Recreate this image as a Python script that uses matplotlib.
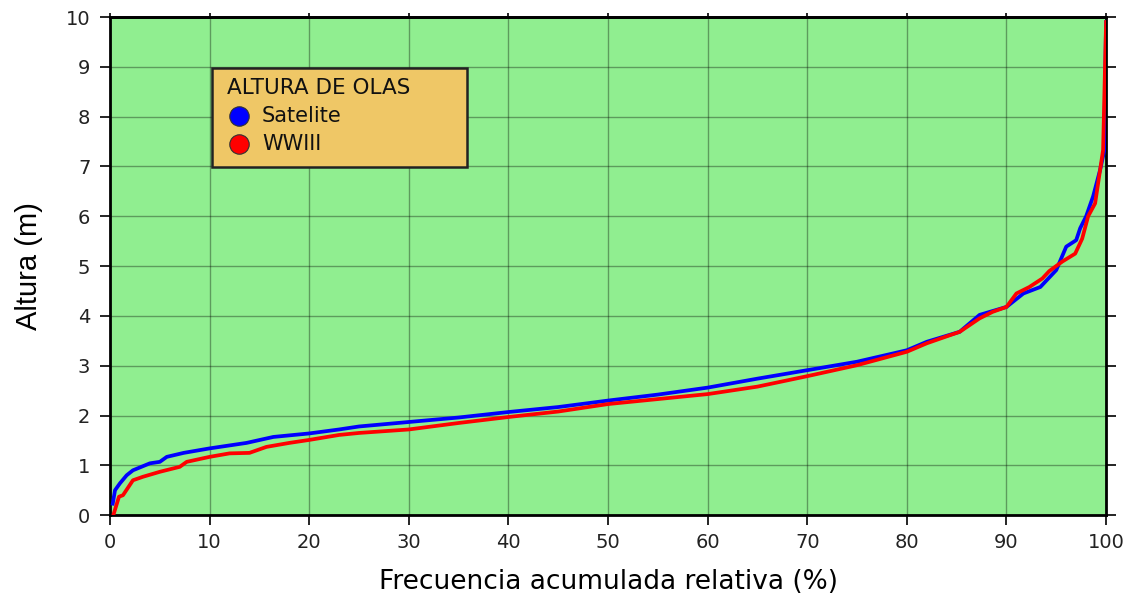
import matplotlib.pyplot as plt
from matplotlib.patches import Rectangle

plt.rcParams['font.family'] = ['DejaVu Sans']

# cumulative frequency (%) vs wave height (m)
sat_freq = [0.27, 0.5, 1.0, 1.67, 2.3, 4.0, 5.0, 5.7, 7.4, 10.0, 13.7, 16.4, 20.0, 23.0,
            25.0, 30.0, 35.0, 40.0, 45.0, 50.0, 55.0, 60.0, 65.0, 70.0, 75.0, 80.0,
            82.0, 85.3, 87.3, 90.0, 91.7, 93.4, 95.0, 96.0, 97.0, 97.4, 98.0, 98.7,
            99.4, 99.8, 100.0]
sat_height = [0.23, 0.5, 0.64, 0.8, 0.9, 1.04, 1.07, 1.17, 1.25, 1.34, 1.45, 1.57, 1.64, 1.72,
              1.78, 1.87, 1.96, 2.07, 2.17, 2.30, 2.42, 2.56, 2.74, 2.91, 3.08, 3.31,
              3.48, 3.68, 4.02, 4.18, 4.45, 4.58, 4.92, 5.39, 5.52, 5.76, 6.0, 6.4,
              6.93, 7.3, 9.9]

wwiii_freq = [0.33, 0.9, 1.3, 2.3, 3.3, 5.0, 7.0, 7.7, 10.0, 12.0, 14.0, 15.7, 18.0, 20.0,
              23.0, 25.0, 30.0, 35.0, 40.0, 45.0, 50.0, 55.0, 60.0, 65.0, 70.0, 75.0,
              80.0, 82.0, 85.3, 87.3, 88.6, 90.0, 91.0, 92.3, 93.6, 94.3, 95.6, 96.9,
              97.6, 98.2, 98.9, 99.4, 99.7, 100.0]
wwiii_height = [0.0, 0.37, 0.4, 0.7, 0.77, 0.87, 0.97, 1.07, 1.17, 1.24, 1.25, 1.37, 1.45, 1.51,
                1.61, 1.65, 1.72, 1.85, 1.97, 2.08, 2.23, 2.33, 2.43, 2.58, 2.79, 3.01,
                3.28, 3.45, 3.68, 3.95, 4.08, 4.18, 4.45, 4.58, 4.75, 4.9, 5.09, 5.25,
                5.55, 6.0, 6.26, 6.93, 7.33, 9.9]

fig = plt.figure(figsize=(11.32, 5.99), dpi=100)
ax = fig.add_axes([0.0972, 0.140, 0.8799, 0.8316])
ax.set_facecolor('#90EE90')

ax.plot(sat_freq, sat_height, color='#0000FF', lw=2.7, zorder=3)
ax.plot(wwiii_freq, wwiii_height, color='#FF0000', lw=2.7, zorder=4)

ax.set_xlim(0, 100)
ax.set_ylim(0, 10)
ax.set_xticks(range(0, 101, 10))
ax.set_yticks(range(0, 11))
ax.grid(color='black', alpha=0.35, lw=1.0)
ax.set_axisbelow(True)

ax.tick_params(direction='out', length=7.2, width=1.2, labelsize=14,
               right=True, labelcolor='#222222')
ax.tick_params(axis='y', pad=7)
ax.tick_params(axis='x', pad=6)
for side in ax.spines.values():
    side.set_linewidth(2)

# short ticks along the top edge
top = ax.secondary_xaxis('top')
top.set_xticks(range(0, 101, 10))
top.tick_params(direction='out', length=3, width=1.2, labeltop=False)
top.spines['top'].set_linewidth(2)

ax.set_xlabel('Frecuencia acumulada relativa (%)', fontsize=19, labelpad=12)
ax.set_ylabel('Altura (m)', fontsize=21, labelpad=16,
              family=['Liberation Sans Narrow', 'Liberation Sans'])

# legend box
ax.add_patch(Rectangle((0.1024, 0.6988), 0.2560, 0.1988, transform=ax.transAxes,
                       facecolor='#EFC766', edgecolor='#222222', lw=1.8, zorder=5))
ax.text(0.1170, 0.857, 'ALTURA DE OLAS', transform=ax.transAxes, fontsize=15.5,
        va='center', ha='left', color='#111111', zorder=6)
ax.plot([0.1295], [0.8012], marker='o', ms=14, mfc='#0000FF', mec='#333333',
        mew=0.8, transform=ax.transAxes, zorder=6, clip_on=False)
ax.plot([0.1295], [0.7450], marker='o', ms=14, mfc='#FF0000', mec='#333333',
        mew=0.8, transform=ax.transAxes, zorder=6, clip_on=False)
ax.text(0.1525, 0.8012, 'Satelite', transform=ax.transAxes, fontsize=15,
        va='center', ha='left', color='#111111', zorder=6)
ax.text(0.1525, 0.7450, 'WWIII', transform=ax.transAxes, fontsize=15,
        va='center', ha='left', color='#111111', zorder=6)

fig.savefig('out.png', dpi=100)
